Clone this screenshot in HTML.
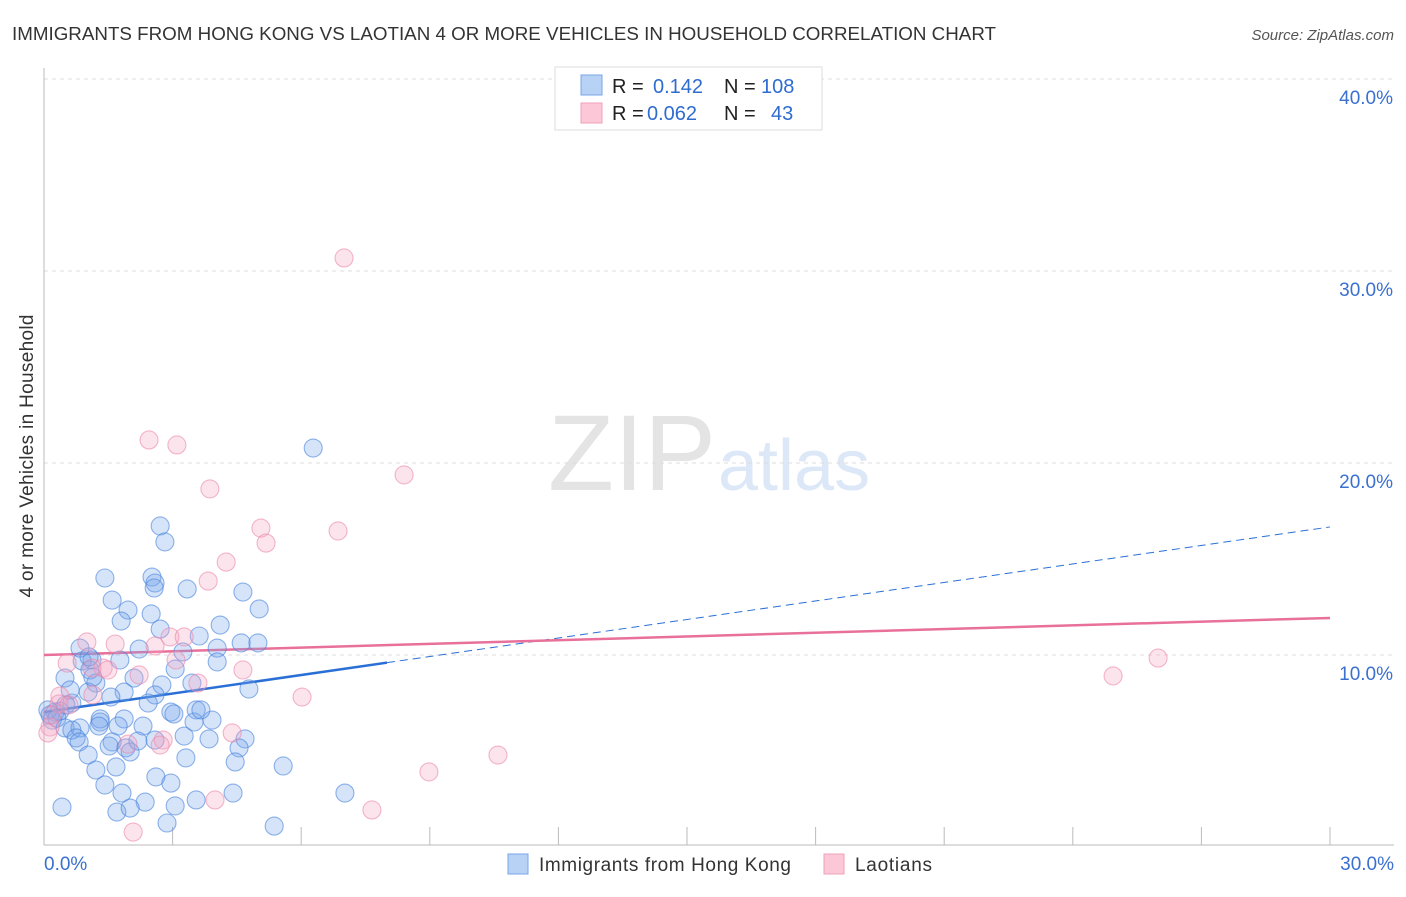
<!DOCTYPE html>
<html><head><meta charset="utf-8"><style>
body{margin:0;background:#fff;font-family:"Liberation Sans",sans-serif;}
svg text{font-family:"Liberation Sans",sans-serif;}
</style></head><body>
<svg id="chart" width="1406" height="892" xmlns="http://www.w3.org/2000/svg">
<text x="12" y="40" font-size="18" fill="#333" textLength="984" lengthAdjust="spacingAndGlyphs">IMMIGRANTS FROM HONG KONG VS LAOTIAN 4 OR MORE VEHICLES IN HOUSEHOLD CORRELATION CHART</text>
<text x="1394" y="40" font-size="15" fill="#555" font-style="italic" text-anchor="end">Source: ZipAtlas.com</text>
<text x="33" y="456" font-size="19" fill="#333" text-anchor="middle" textLength="283" transform="rotate(-90 33 456)">4 or more Vehicles in Household</text>
<text x="716" y="490" font-size="108" fill="#e4e4e4" text-anchor="end" font-family="Liberation Serif">ZIP</text>
<text x="718" y="490" font-size="72" fill="#dce8f7">atlas</text>
<g id="grid"></g>
<g id="axes"></g>
<g id="trend"></g>
<g id="points"></g>
<g>
<rect x="555" y="67" width="267" height="63" fill="#fff" stroke="#ddd"/>
<rect x="581" y="75" width="21" height="20" fill="#b8d2f5" stroke="#7aa6e6"/>
<rect x="581" y="103" width="21" height="20" fill="#fcc8d8" stroke="#f0a0b8"/>
<text x="612" y="93" font-size="20" fill="#222">R = </text><text x="653" y="93" font-size="20" fill="#2f6cd0">0.142</text>
<text x="724" y="93" font-size="20" fill="#222">N = </text><text x="761" y="93" font-size="20" fill="#2f6cd0">108</text>
<text x="612" y="120" font-size="20" fill="#222">R = </text><text x="647" y="120" font-size="20" fill="#2f6cd0">0.062</text>
<text x="724" y="120" font-size="20" fill="#222">N = </text><text x="771" y="120" font-size="20" fill="#2f6cd0">43</text>
</g>
<g>
<rect x="508" y="854" width="20" height="20" fill="#b8d2f5" stroke="#7aa6e6"/>
<text x="539" y="871" font-size="19" fill="#333" textLength="252">Immigrants from Hong Kong</text>
<rect x="824" y="854" width="20" height="20" fill="#fcc8d8" stroke="#f0a0b8"/>
<text x="855" y="871" font-size="19" fill="#333" textLength="77">Laotians</text>
</g>
</svg>
<script>
const blueX=[6.28,2.71,2.82,1.42,2.52,2.59,2.57,3.34,4.64,1.59,1.96,5.02,2.50,1.80,2.71,4.11,3.62,4.60,4.99,3.24,2.22,4.04,3.06,4.04,1.12,0.89,0.49,1.07,2.10,1.21,3.45,2.75,4.78,1.87,2.59,1.56,2.43,0.65,1.03,0.61,3.55,2.96,3.03,0.37,0.26,0.14,0.09,0.19,0.30,0.51,1.31,1.87,1.31,1.28,1.73,0.49,0.84,2.31,3.27,2.59,3.85,0.65,0.75,0.82,1.59,1.52,1.91,2.01,4.69,4.55,1.03,4.46,3.31,1.21,1.68,2.61,5.58,2.96,1.42,1.82,2.36,3.55,3.06,4.41,0.42,1.70,2.01,2.87,5.37,7.02,3.50,3.92,3.66,2.19,1.77,0.84,1.05,1.14];
const blueY=[20.78,16.72,15.89,14.01,14.06,13.75,13.49,13.44,13.28,12.86,12.34,12.40,12.14,11.77,11.35,11.56,10.99,10.63,10.63,10.16,10.31,10.36,9.27,9.64,9.74,9.69,8.80,9.22,8.80,8.54,8.54,8.44,8.23,8.07,7.92,7.81,7.50,7.50,8.07,8.18,7.14,7.03,6.93,7.08,7.03,6.88,7.14,6.61,6.72,7.40,6.67,6.67,6.51,6.30,6.30,6.20,6.20,6.30,5.78,5.57,5.63,6.09,5.68,5.47,5.47,5.26,5.16,4.95,5.63,5.16,4.79,4.43,4.64,4.01,4.17,3.65,4.22,3.33,3.23,2.81,2.34,2.45,2.14,2.81,2.08,1.82,2.03,1.25,1.09,2.81,6.51,6.61,7.14,5.52,9.74,10.36,9.90,8.85];
const pinkX=[7.00,2.45,3.10,3.87,8.40,5.06,6.86,5.18,4.25,3.83,1.00,1.66,2.94,3.27,2.59,3.08,0.54,1.38,1.49,1.14,0.37,2.22,4.64,3.59,6.02,0.35,0.19,0.14,4.39,2.78,2.71,1.96,10.59,8.98,3.99,7.65,2.08,24.94,25.99,1.12,0.58,0.09];
const pinkY=[30.68,21.20,20.94,18.65,19.38,16.61,16.46,15.83,14.84,13.85,10.68,10.57,10.94,10.94,10.47,9.74,9.58,9.32,9.22,7.92,7.86,8.96,9.22,8.54,7.81,7.45,6.88,6.25,5.94,5.57,5.31,5.36,4.79,3.91,2.45,1.93,0.78,8.91,9.84,9.32,7.40,5.94];
const yTicks=[10,20,30,40];
const yTickLabels=["10.0%","20.0%","30.0%","40.0%"];
const xTicks=[0,3,6,9,12,15,18,21,24,27,30];
const blueTrend=[7.03,16.67];
const blueSolidEnd=8.0;
const pinkTrend=[10.0,11.93];

const NS="http://www.w3.org/2000/svg";
const sx=v=>44+v/30*1286;
const sy=v=>847-v*19.2;
function mk(tag,attrs,parent){const e=document.createElementNS(NS,tag);for(const k in attrs)e.setAttribute(k,attrs[k]);parent.appendChild(e);return e;}
const grid=document.getElementById('grid'),axes=document.getElementById('axes'),trend=document.getElementById('trend'),pts=document.getElementById('points');
yTicks.forEach((t,i)=>{
 const l=mk('line',{x1:44,x2:1394,y1:sy(t),y2:sy(t),stroke:'#ddd','stroke-dasharray':'4,4'},grid);
 
 
 const tx=mk('text',{x:1393,y:sy(t)+25,'font-size':19,fill:'#3a70d0','text-anchor':'end'},axes);
 tx.textContent=yTickLabels[i];
 
 
});
const ax=mk('line',{x1:44,x2:1394,y1:845,y2:845,stroke:'#bbb'},axes);


const ay=mk('line',{x1:44,x2:44,y1:68,y2:845,stroke:'#bbb'},axes);


xTicks.forEach(t=>{
 const l=mk('line',{x1:sx(t),x2:sx(t),y1:827,y2:845,stroke:'#bbb'},axes);
 
 
});
const x0=mk('text',{x:44,y:870,'font-size':19,fill:'#3a70d0'},axes);x0.textContent='0.0%';


const x1=mk('text',{x:1394,y:870,'font-size':19,fill:'#3a70d0','text-anchor':'end'},axes);x1.textContent='30.0%';


const by=v=>blueTrend[0]+(blueTrend[1]-blueTrend[0])*v/30;
const b1=mk('line',{x1:sx(0),y1:sy(by(0)),x2:sx(blueSolidEnd),y2:sy(by(blueSolidEnd)),stroke:'#2a6fd6','stroke-width':2.5},trend);


const b2=mk('line',{x1:sx(blueSolidEnd),y1:sy(by(blueSolidEnd)),x2:sx(30),y2:sy(by(30)),stroke:'#2a6fd6','stroke-width':1,'stroke-dasharray':'8,5'},trend);


const p1=mk('line',{x1:sx(0),y1:sy(pinkTrend[0]),x2:sx(30),y2:sy(pinkTrend[1]),stroke:'#e8709a','stroke-width':2.5},trend);


blueX.forEach((v,i)=>{
 const c=mk('circle',{cx:sx(v),cy:sy(blueY[i]),r:9,fill:'rgba(120,165,235,0.3)',stroke:'rgba(70,130,220,0.6)','stroke-width':1.1},pts);
 
 
});
pinkX.forEach((v,i)=>{
 const c=mk('circle',{cx:sx(v),cy:sy(pinkY[i]),r:9,fill:'rgba(245,165,195,0.3)',stroke:'rgba(235,135,170,0.6)','stroke-width':1.1},pts);
 
 
});
</script>
</body></html>
